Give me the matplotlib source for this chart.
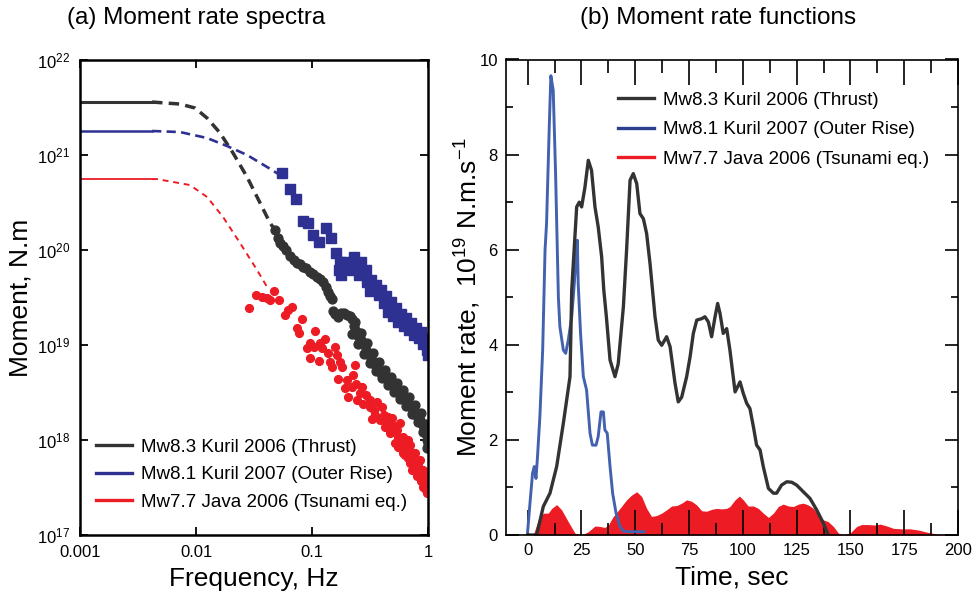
import matplotlib
matplotlib.use("Agg")
import matplotlib.pyplot as plt
from matplotlib.lines import Line2D
from matplotlib.ticker import FixedLocator, FixedFormatter, MultipleLocator, NullLocator
import numpy as np

plt.rcParams["font.family"] = ["Liberation Sans", "DejaVu Sans"]
plt.rcParams["mathtext.fontset"] = "custom"
plt.rcParams["mathtext.rm"] = "Liberation Sans"
plt.rcParams["mathtext.it"] = "Liberation Sans:italic"
plt.rcParams["mathtext.bf"] = "Liberation Sans:bold"

DARK = "#333333"
NAVY = "#2e3192"
BLUE = "#4262b0"
RED = "#ed1c24"

labels = ["Mw8.3 Kuril 2006 (Thrust)",
          "Mw8.1 Kuril 2007 (Outer Rise)",
          "Mw7.7 Java 2006 (Tsunami eq.)"]

# ---- (a) spectra, values as log10(f [Hz]) and log10(M [N.m]) ----
flat_end = -2.379
k06_level = 21.558
k07_level = 21.253
java_level = 20.747

k06_dash_logf = [-2.379, -2.259, -2.138, -2.009, -1.905, -1.793, -1.681, -1.560, -1.448, -1.362, -1.319]
k06_dash_logm = [21.558, 21.547, 21.537, 21.495, 21.389, 21.232, 21.021, 20.768, 20.495, 20.284, 20.211]
k07_dash_logf = [-2.379, -2.138, -1.905, -1.733, -1.560, -1.388, -1.276]
k07_dash_logm = [21.253, 21.242, 21.179, 21.095, 21.0, 20.874, 20.789]
java_dash_logf = [-2.379, -2.336, -2.052, -1.905, -1.767, -1.621, -1.474, -1.388]
java_dash_logm = [20.747, 20.747, 20.684, 20.558, 20.347, 20.074, 19.789, 19.611]

k06_logf = [-1.319, -1.293, -1.276, -1.250, -1.224, -1.190, -1.155, -1.129, -1.103, -1.078,
            -1.052, -1.017, -0.991, -0.957, -0.931, -0.905, -0.879, -0.862, -0.845, -0.828,
            -0.819, -0.802, -0.776, -0.750, -0.724, -0.698, -0.672, -0.655, -0.638, -0.621,
            -0.603, -0.578, -0.560, -0.534, -0.517, -0.491, -0.474, -0.448, -0.431, -0.405,
            -0.379, -0.353, -0.328, -0.302, -0.276, -0.250, -0.224, -0.198, -0.172, -0.147,
            -0.121, -0.095, -0.069, -0.052, -0.034, -0.017, -0.009, 0.0,
            -0.629, -0.578, -0.526, -0.474, -0.422, -0.371, -0.319, -0.267, -0.216, -0.164,
            -0.112, -0.060, -0.017, -0.655, -0.603, -0.552, -0.5, -0.448, -0.397, -0.345,
            -0.293, -0.241, -0.190, -0.138, -0.086, -0.043, -0.009]
k06_logm = [20.211, 20.126, 20.074, 20.042, 20.0, 19.937, 19.895, 19.863, 19.853, 19.821,
            19.811, 19.768, 19.747, 19.716, 19.695, 19.663, 19.611, 19.558, 19.516, 19.484,
            19.358, 19.326, 19.295, 19.337, 19.337, 19.316, 19.305, 19.274, 19.2, 19.147,
            19.095, 19.053, 19.011, 18.947, 18.905, 18.863, 18.821, 18.779, 18.737, 18.705,
            18.674, 18.642, 18.6, 18.568, 18.526, 18.495, 18.453, 18.421, 18.379, 18.347,
            18.305, 18.253, 18.211, 18.168, 18.126, 18.063, 18.0, 17.958,
            19.242, 19.126, 19.021, 18.916, 18.821, 18.737, 18.663, 18.6, 18.526, 18.453,
            18.368, 18.284, 18.168, 19.116, 19.011, 18.905, 18.811, 18.726, 18.653, 18.579,
            18.505, 18.432, 18.358, 18.274, 18.189, 18.084, 17.916]

k07_logf = [-1.259, -1.190, -1.138, -1.078, -1.034, -0.991, -0.940, -0.879, -0.836, -0.793,
            -0.759, -0.750, -0.716, -0.681, -0.638, -0.612, -0.578, -0.560, -0.534, -0.526,
            -0.491, -0.474, -0.448, -0.422, -0.405, -0.379, -0.362, -0.345, -0.319, -0.302,
            -0.276, -0.259, -0.233, -0.207, -0.190, -0.164, -0.147, -0.121, -0.103, -0.078,
            -0.060, -0.043, -0.026, -0.009, 0.0, 0.0, -0.767, -0.655, -0.595, -0.5]
k07_logm = [20.811, 20.642, 20.537, 20.305, 20.284, 20.158, 20.084, 20.232, 20.126, 19.968,
            19.874, 19.737, 19.874, 19.832, 19.926, 19.853, 19.874, 19.768, 19.789, 19.663,
            19.684, 19.579, 19.632, 19.526, 19.579, 19.442, 19.516, 19.347, 19.453, 19.305,
            19.389, 19.242, 19.326, 19.2, 19.284, 19.158, 19.232, 19.105, 19.179, 19.074,
            19.137, 19.011, 19.074, 18.947, 19.032, 18.895, 19.789, 19.789, 19.737, 19.568]

java_logf = [-1.543, -1.483, -1.431, -1.388, -1.362, -1.328, -1.284, -1.233, -1.207, -1.172,
             -1.129, -1.112, -1.086, -1.043, -1.017, -1.017, -0.983, -0.974, -0.940, -0.931,
             -0.914, -0.888, -0.862, -0.845, -0.828, -0.802, -0.784, -0.776, -0.759, -0.741,
             -0.716, -0.698, -0.690, -0.655, -0.647, -0.629, -0.621, -0.612, -0.586, -0.569,
             -0.560, -0.534, -0.5, -0.5, -0.483, -0.466, -0.440, -0.414, -0.397, -0.371,
             -0.345, -0.328, -0.310, -0.284, -0.267, -0.241, -0.241, -0.216, -0.216, -0.190,
             -0.172, -0.155, -0.155, -0.129, -0.112, -0.095, -0.086, -0.069, -0.060, -0.043,
             -0.043, -0.026, -0.009, -0.009, 0.0, -0.379,
             -0.284, -0.198, -0.138, -0.078, -0.172, -0.259, -0.345,
             -0.259, -0.224, -0.190, -0.147, -0.121, -0.103, -0.069, -0.052, -0.026, -0.017,
             0.0, -0.310, -0.362, -0.457]
java_logm = [19.389, 19.526, 19.505, 19.495, 19.474, 19.568, 19.474, 19.316, 19.368, 19.4,
             19.179, 19.126, 19.274, 18.968, 19.021, 18.863, 18.979, 19.147, 18.832, 19.021,
             18.968, 19.063, 18.916, 18.821, 18.768, 18.979, 18.895, 18.642, 18.821, 18.768,
             18.547, 18.632, 18.453, 18.558, 18.684, 18.789, 18.589, 18.421, 18.495, 18.558,
             18.379, 18.474, 18.421, 18.347, 18.221, 18.316, 18.4, 18.211, 18.347, 18.137,
             18.242, 18.074, 18.158, 17.968, 18.105, 18.179, 18.0, 18.032, 17.863, 17.926,
             18.0, 17.758, 17.947, 17.842, 17.863, 17.621, 17.737, 17.789, 17.568, 17.505,
             17.684, 17.621, 17.442, 17.558, 17.495, 18.263,
             18.084, 17.842, 17.684, 17.632, 17.811, 17.926, 18.158,
             18.032, 17.937, 18.0, 17.874, 17.768, 17.705, 17.684, 17.6, 17.526, 17.474,
             17.579, 18.232, 18.211, 18.263]

freq_ticks = [0.001, 0.01, 0.1, 1]
freq_labels = ["0.001", "0.01", "0.1", "1"]

# ---- (b) moment rate functions, 1e19 N.m/s ----
k06_t = [0, 4.2, 7.3, 10.4, 13.5, 16.6, 19.7, 20.5, 22.8, 24.0, 25.1, 26.6, 28.2, 29.7, 31.3,
         32.8, 34.4, 35.4, 36.6, 38.3, 40.6, 42.1, 44.5, 46.0, 47.6, 49.1, 50.7, 52.2, 53.8,
         55.3, 56.9, 59.2, 60.7, 62.3, 64.6, 66.2, 68.5, 70.0, 71.6, 73.9, 75.5, 77.0, 78.6,
         80.9, 82.4, 84.0, 85.5, 87.1, 88.3, 89.4, 90.9, 92.5, 94.0, 96.4, 98.7, 100.2, 101.8,
         103.3, 104.9, 106.4, 108.0, 109.5, 111.9, 114.2, 115.7, 118.0, 120.4, 122.7, 125.0,
         128.1, 131.2, 134.3, 137.4, 139.7]
k06_rate = [0, 0, 0.6, 0.88, 1.44, 2.35, 3.33, 5.15, 6.9, 7.0, 6.9, 7.3, 7.88, 7.67, 6.9,
            6.48, 5.85, 5.15, 4.59, 3.68, 3.33, 3.6, 4.8, 6.0, 7.46, 7.6, 7.39, 6.76, 6.65,
            6.34, 5.7, 4.59, 4.1, 3.99, 4.17, 3.96, 3.19, 2.8, 2.9, 3.33, 3.75, 4.24, 4.52,
            4.55, 4.59, 4.48, 4.17, 4.59, 4.87, 4.66, 4.24, 4.34, 3.89, 3.01, 3.22, 2.98, 2.77,
            2.66, 2.28, 1.89, 1.79, 1.44, 0.98, 0.88, 0.88, 1.05, 1.12, 1.11, 1.05,
            0.91, 0.77, 0.53, 0.25, 0]

k07_t = [0, 1.1, 2.3, 3.1, 3.9, 4.6, 5.7, 7.0, 8.1, 8.8, 10.1, 10.8, 11.9, 13.0, 14.3, 15.0,
         16.6, 17.7, 18.9, 20.5, 21.7, 22.5, 23.1, 23.5, 24.6, 25.9, 27.4, 29.0, 30.1, 31.8,
         32.8, 34.1, 35.2, 35.9, 37.0, 38.3, 39.5, 41.1, 42.9, 44.5, 47.6, 54.1]
k07_rate = [0.07, 0.67, 1.3, 1.44, 1.19, 1.65, 2.49, 3.89, 5.99, 6.55, 8.65, 9.66, 9.35, 7.6,
            5.0, 4.38, 3.89, 3.82, 4.1, 4.59, 5.29, 5.85, 6.2, 5.29, 4.24, 3.33, 3.05, 2.14,
            1.89, 1.89, 2.07, 2.59, 2.59, 2.21, 2.14, 1.44, 0.88, 0.46, 0.18, 0.08, 0.07, 0.07]

java_t = [0, 2.6, 5.0, 7.3, 9.6, 11.2, 13.5, 15.8, 18.9, 22.0, 25.1, 28.2, 31.3, 33.6, 35.9,
          37.5, 39.8, 42.9, 46.0, 48.3, 50.7, 53.0, 55.3, 57.6, 60.0, 62.3, 64.6, 66.9, 69.3,
          71.6, 73.9, 76.2, 78.6, 80.9, 83.2, 85.5, 87.8, 90.2, 92.5, 94.0, 96.4, 98.4, 100.2,
          102.5, 104.9, 107.2, 109.5, 111.9, 114.2, 116.5, 118.8, 121.2, 123.5, 125.8, 128.1,
          130.5, 132.8, 135.1, 137.4, 139.7, 142.1, 144.4, 146.7, 149.8, 152.9, 155.2, 158.3,
          161.4, 163.8, 166.9, 170.0, 173.8, 177.7, 181.6, 185.5, 190.1, 194.7, 196.3]
java_rate = [0, 0, 0.32, 0.46, 0.46, 0.56, 0.64, 0.53, 0.28, 0.04, 0, 0.07, 0.19, 0.18, 0.16,
             0.21, 0.39, 0.56, 0.74, 0.84, 0.91, 0.81, 0.56, 0.39, 0.41, 0.46, 0.53, 0.61, 0.62,
             0.67, 0.74, 0.71, 0.63, 0.51, 0.50, 0.54, 0.56, 0.55, 0.56, 0.6, 0.74, 0.82, 0.74,
             0.61, 0.61, 0.56, 0.46, 0.37, 0.46, 0.6, 0.65, 0.61, 0.6, 0.65, 0.67,
             0.63, 0.56, 0.42, 0.32, 0.28, 0.18, 0.04, 0.01, 0.04, 0.18, 0.22, 0.22,
             0.21, 0.23, 0.19, 0.14, 0.13, 0.13, 0.105, 0.06, 0.02, 0.01, 0]

fig = plt.figure(figsize=(9.77, 5.95), dpi=100)
ax1 = fig.add_axes([0.0819, 0.1008, 0.3563, 0.7983])
ax2 = fig.add_axes([0.518, 0.1008, 0.4626, 0.7992])


def p10(v):
    return 10 ** np.asarray(v)


# panel a
ax1.plot([1e-3, 10 ** flat_end], [10 ** k06_level] * 2, color=DARK, lw=2.2)
ax1.plot([1e-3, 10 ** flat_end], [10 ** k07_level] * 2, color=NAVY, lw=1.8)
ax1.plot([1e-3, 10 ** flat_end], [10 ** java_level] * 2, color=RED, lw=1.3)
ax1.plot(p10(k06_dash_logf), p10(k06_dash_logm), color=DARK, lw=2.5, dashes=(3.0, 1.8))
ax1.plot(p10(k07_dash_logf), p10(k07_dash_logm), color=NAVY, lw=1.9, dashes=(3.5, 2.0))
ax1.plot(p10(java_dash_logf), p10(java_dash_logm), color=RED, lw=1.4, dashes=(3.0, 2.5))
ax1.plot(p10(k07_logf), p10(k07_logm), ls="none", marker="s", ms=7.2, color=NAVY, mec=NAVY)
ax1.plot(p10(java_logf), p10(java_logm), ls="none", marker="o", ms=5.6, color=RED, mec=RED)
ax1.plot(p10(k06_logf), p10(k06_logm), ls="none", marker="o", ms=6.4, color=DARK, mec=DARK)

ax1.set_xscale("log")
ax1.set_yscale("log")
ax1.set_xlim(1e-3, 1)
ax1.set_ylim(1e17, 1e22)
ax1.xaxis.set_major_locator(FixedLocator(freq_ticks))
ax1.xaxis.set_major_formatter(FixedFormatter(freq_labels))
ax1.xaxis.set_minor_locator(NullLocator())
ax1.yaxis.set_minor_locator(NullLocator())
ax1.tick_params(which="major", direction="in", top=True, right=True, length=6,
                width=1.3, labelsize=12, pad=7)
for s in ax1.spines.values():
    s.set_linewidth(1.8)
ax1.set_xlabel("Frequency, Hz", fontsize=19, labelpad=5)
ax1.set_ylabel("Moment, N.m", fontsize=19, labelpad=3)

h = [Line2D([], [], color=DARK, lw=2.4), Line2D([], [], color=NAVY, lw=2.4),
     Line2D([], [], color=RED, lw=2.4)]
ax1.legend(h, labels, loc="upper left", bbox_to_anchor=(0.046, 0.203), frameon=False,
           fontsize=13.5, handlelength=1.9, handletextpad=0.5, labelspacing=0.55,
           borderpad=0, borderaxespad=0)

# panel b
ax2.fill_between(java_t, 0, java_rate, color=RED, lw=0)
ax2.plot(k07_t, k07_rate, color=BLUE, lw=2.1)
ax2.plot(k06_t, k06_rate, color=DARK, lw=2.4)
ax2.set_xlim(-10, 200)
ax2.set_ylim(0, 10)
ax2.xaxis.set_major_locator(MultipleLocator(25))
ax2.xaxis.set_minor_locator(MultipleLocator(12.5))
ax2.yaxis.set_major_locator(MultipleLocator(2))
ax2.yaxis.set_minor_locator(MultipleLocator(1))
ax2.tick_params(axis="x", which="major", direction="in", top=True, length=18, width=1.2,
                labelsize=12, pad=6)
ax2.tick_params(axis="x", which="minor", direction="in", top=True, length=9, width=1.2)
ax2.tick_params(axis="y", which="major", direction="in", right=True, length=9.5, width=1.2,
                labelsize=12, pad=6)
ax2.tick_params(axis="y", which="minor", direction="in", right=True, length=5, width=1.2)
for s in ax2.spines.values():
    s.set_linewidth(1.2)
ax2.set_xlabel("Time, sec", fontsize=19, labelpad=5)
ax2.set_ylabel("Moment rate,  10$^{19}$ N.m.s$^{-1}$", fontsize=19)
ax2.yaxis.set_label_coords(-0.052, 0.5)

h2 = [Line2D([], [], color=DARK, lw=2.4), Line2D([], [], color="#2e3f90", lw=2.4),
      Line2D([], [], color=RED, lw=2.4)]
ax2.legend(h2, labels, loc="upper left", bbox_to_anchor=(0.248, 0.932), frameon=False,
           fontsize=13.5, handlelength=1.9, handletextpad=0.5, labelspacing=0.66,
           borderpad=0, borderaxespad=0)

fig.text(196 / 977, 0.97, "(a) Moment rate spectra", fontsize=17.5, ha="center", va="center")
fig.text(718 / 977, 0.97, "(b) Moment rate functions", fontsize=17.5, ha="center", va="center")

fig.savefig("out.png", dpi=100)
